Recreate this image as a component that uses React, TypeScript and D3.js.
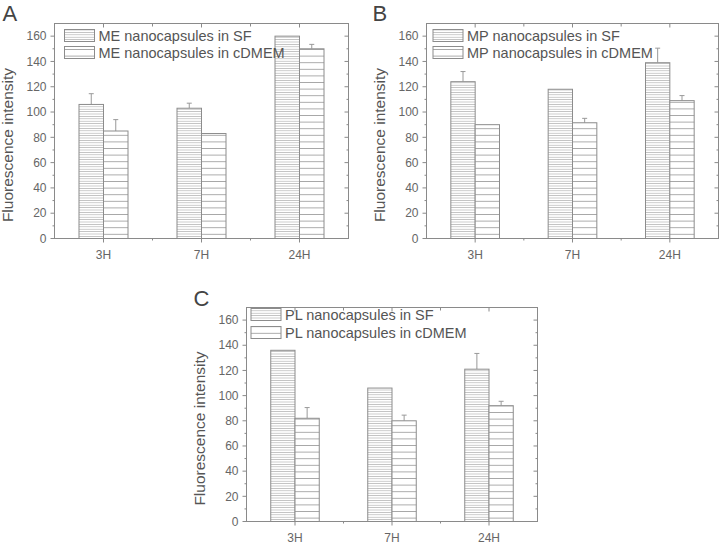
import React from "react";
import * as d3 from "d3";

const categories = ["3H", "7H", "24H"];
const yTicks = [0, 20, 40, 60, 80, 100, 120, 140, 160];
const yMinor = [10, 30, 50, 70, 90, 110, 130, 150];

const aSF = [106, 103, 160];
const aSFErr = [8.5, 4, 0];
const aCD = [85, 83, 150];
const aCDErr = [9, 0, 3.5];

const bSF = [124, 118, 139];
const bSFErr = [8, 0, 11.5];
const bCD = [90, 91.5, 109];
const bCDErr = [0, 3.5, 4];

const cSF = [136, 106, 121];
const cSFErr = [0, 0, 12.5];
const cCD = [82, 80, 92];
const cCDErr = [8.5, 4.5, 3.5];

const FONT = "'Liberation Sans', Arial, sans-serif";
const AX = "#8a8a8a";
const TXT = "#666";

type PanelProps = {
  letter: string;
  prefix: string;
  left: number;
  top: number;
  right: number;
  bottom: number;
  legendDx: number;
  legendDy: number;
  legendGap: number;
  letterDx: number;
  letterDy: number;
  sf: number[];
  sfErr: number[];
  cd: number[];
  cdErr: number[];
};

function Panel(p: PanelProps) {
  const x = d3.scaleBand<string>().domain(categories).range([p.left, p.right]).padding(0);
  const y = d3.scaleLinear().domain([0, 170]).range([p.bottom, p.top]);
  const band = x.bandwidth();
  const bw = band * 0.25;
  const series = [
    { vals: p.sf, errs: p.sfErr, fill: "url(#hatchDense)", off: -bw, name: `${p.prefix} nanocapsules in SF` },
    { vals: p.cd, errs: p.cdErr, fill: "url(#hatchSparse)", off: 0, name: `${p.prefix} nanocapsules in cDMEM` },
  ];
  const boundaries = [1, 2].map((i) => p.left + i * band);
  const midY = (p.top + p.bottom) / 2 + 14;
  return (
    <g>
      {series.map((s, si) =>
        s.vals.map((v, i) => {
          const cx = (x(categories[i]) as number) + band / 2 + s.off;
          const yt = y(v);
          const ye = y(v + s.errs[i]);
          return (
            <g key={`${si}-${i}`}>
              {s.errs[i] > 0 && (
                <g stroke="#999" strokeWidth={1}>
                  <line x1={cx + bw / 2} x2={cx + bw / 2} y1={yt} y2={ye} />
                  <line x1={cx + bw / 2 - 2.5} x2={cx + bw / 2 + 2.5} y1={ye} y2={ye} />
                </g>
              )}
              <rect x={cx} y={yt} width={bw} height={p.bottom - yt} fill={s.fill} stroke="#8c8c8c" strokeWidth={1} />
            </g>
          );
        })
      )}
      <rect x={p.left} y={p.top} width={p.right - p.left} height={p.bottom - p.top} fill="none" stroke={AX} strokeWidth={1} />
      {yTicks.map((t) => (
        <g key={"yt" + t}>
          <line x1={p.left - 4} x2={p.left} y1={y(t)} y2={y(t)} stroke={AX} />
          <line x1={p.right - 4} x2={p.right} y1={y(t)} y2={y(t)} stroke={AX} />
          <text x={p.left - 8} y={y(t)} dy="0.35em" textAnchor="end" fontSize={12} fill={TXT} fontFamily={FONT}>
            {t}
          </text>
        </g>
      ))}
      {yMinor.map((t) => (
        <g key={"ym" + t}>
          <line x1={p.left - 2} x2={p.left} y1={y(t)} y2={y(t)} stroke={AX} />
          <line x1={p.right - 2} x2={p.right} y1={y(t)} y2={y(t)} stroke={AX} />
        </g>
      ))}
      {categories.map((c) => {
        const cx = (x(c) as number) + band / 2;
        return (
          <g key={"xt" + c}>
            <line x1={cx} x2={cx} y1={p.bottom} y2={p.bottom + 4} stroke={AX} />
            <line x1={cx} x2={cx} y1={p.top} y2={p.top + 4} stroke={AX} />
            <text x={cx} y={p.bottom + 16} dy="0.35em" textAnchor="middle" fontSize={12} fill={TXT} fontFamily={FONT}>
              {c}
            </text>
          </g>
        );
      })}
      {boundaries.map((bx, i) => (
        <g key={"xb" + i}>
          <line x1={bx} x2={bx} y1={p.bottom} y2={p.bottom + 2} stroke={AX} />
          <line x1={bx} x2={bx} y1={p.top} y2={p.top + 3} stroke={AX} />
        </g>
      ))}
      <text
        transform={`translate(${p.left - 47},${midY}) rotate(-90)`}
        textAnchor="middle"
        dy="0.35em"
        fontSize={15.5}
        fill="#555"
        fontFamily={FONT}
      >
        Fluorescence intensity
      </text>
      <text x={p.left + p.letterDx} y={p.top + p.letterDy} fontSize={22} fill="#444" fontFamily={FONT}>
        {p.letter}
      </text>
      {series.map((s, i) => {
        const ly = p.top + p.legendDy + i * p.legendGap;
        return (
          <g key={"lg" + i}>
            <rect x={p.left + p.legendDx} y={ly} width={30} height={12} fill={s.fill} stroke="#8c8c8c" />
            <text x={p.left + p.legendDx + 34} y={ly + 6} dy="0.35em" fontSize={14.5} fill="#555" fontFamily={FONT}>
              {s.name}
            </text>
          </g>
        );
      })}
    </g>
  );
}

export default function App() {
  return (
    <svg width={720} height={545} style={{ display: "block", position: "absolute", left: 0, top: 0 }}>
      <defs>
        <pattern id="hatchDense" patternUnits="userSpaceOnUse" width={8} height={2.4}>
          <rect width={8} height={2.4} fill="#fff" />
          <line x1={0} x2={8} y1={1.2} y2={1.2} stroke="#b4b4b4" strokeWidth={0.8} />
        </pattern>
        <pattern id="hatchSparse" patternUnits="userSpaceOnUse" width={8} height={6.6}>
          <rect width={8} height={6.6} fill="#fff" />
          <line x1={0} x2={8} y1={3.3} y2={3.3} stroke="#a8a8a8" strokeWidth={1} />
        </pattern>
      </defs>
      <rect width={720} height={545} fill="#fff" />
      <Panel letter="A" prefix="ME" left={54.5} top={23.5} right={348.5} bottom={238.5}
        legendDx={10} legendDy={6} legendGap={17} letterDx={-52} letterDy={-3}
        sf={aSF} sfErr={aSFErr} cd={aCD} cdErr={aCDErr} />
      <Panel letter="B" prefix="MP" left={426.5} top={23.5} right={718.5} bottom={238.5}
        legendDx={6.5} legendDy={6} legendGap={17} letterDx={-54} letterDy={-3}
        sf={bSF} sfErr={bSFErr} cd={bCD} cdErr={bCDErr} />
      <Panel letter="C" prefix="PL" left={246.5} top={307.5} right={537.5} bottom={521.5}
        legendDx={4.5} legendDy={1} legendGap={18} letterDx={-53} letterDy={-2}
        sf={cSF} sfErr={cSFErr} cd={cCD} cdErr={cCDErr} />
    </svg>
  );
}
